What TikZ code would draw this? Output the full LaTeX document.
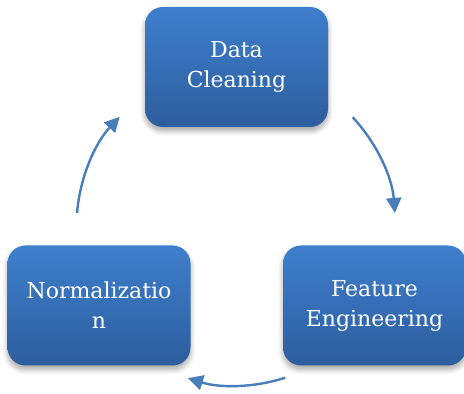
\documentclass[tikz,border=0pt]{standalone}
\usepackage{fontspec}
\setmainfont{DejaVu Serif}
\usetikzlibrary{arrows.meta,shadows.blur}
\definecolor{boxtop}{RGB}{62,127,205}
\definecolor{boxbot}{RGB}{45,93,157}
\definecolor{flowc}{RGB}{74,126,187}
\tikzset{
  stage/.style={minimum width=183pt, minimum height=120pt, rounded corners=18pt,
    top color=boxtop, bottom color=boxbot, draw=none, text=white,
    align=center, font=\fontsize{22}{30}\selectfont,
    blur shadow={shadow xshift=0pt, shadow yshift=-4pt, shadow blur steps=8,
      shadow blur radius=5pt, shadow opacity=35}},
  flow/.style={draw=flowc, line width=2.4pt, -{Triangle[length=15pt,width=15pt]}}
}
\begin{document}
\begin{tikzpicture}[x=1pt,y=1pt]
  \useasboundingbox (0,0) rectangle (464,394);
  \node[stage] (clean) at (236.5,327) {Data\\Cleaning};
  \node[stage] (feat) at (374.5,88.5) {Feature\\Engineering};
  \node[stage] (norm) at (99,88.5) {Normalizatio\\n};
  % centre of the cycle the arrows run around
  \coordinate (hub) at (236,168);
  \draw[flow] ([shift={(43:159.5)}]hub) arc[start angle=43, end angle=4.7, radius=159.5];
  \draw[flow] ([shift={(-72:159.5)}]hub) arc[start angle=-72, end angle=-107.5, radius=159.5];
  \draw[flow] ([shift={(175.3:159.5)}]hub) arc[start angle=175.3, end angle=136.8, radius=159.5];
\end{tikzpicture}
\end{document}
